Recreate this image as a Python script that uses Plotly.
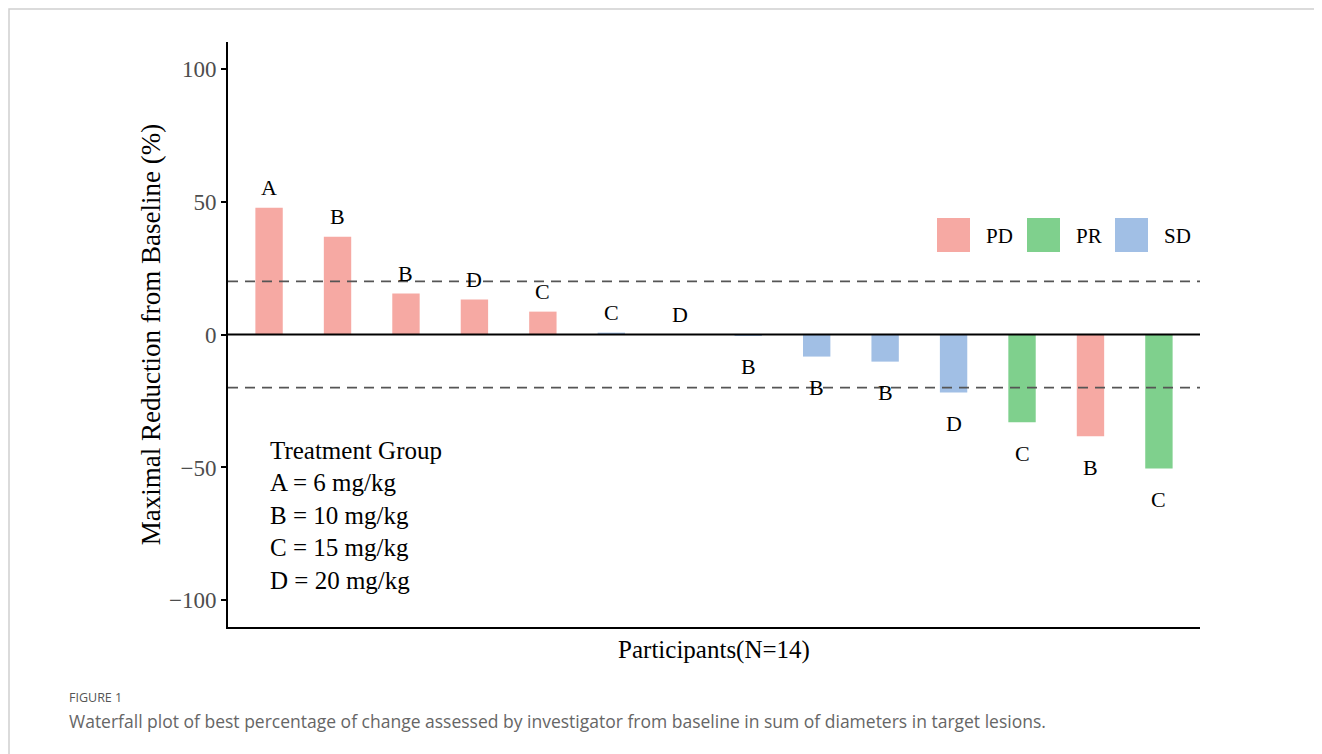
import plotly.graph_objects as go

# ---- data ----
groups = ["A", "B", "B", "D", "C", "C", "D", "B", "B", "B", "D", "C", "B", "C"]
values = [47.7, 36.8, 15.4, 13.2, 8.6, 0.7, 0.0, -0.5, -8.3, -10.2, -21.8, -33.0, -38.3, -50.4]
responses = ["PD", "PD", "PD", "PD", "PD", "SD", "SD", "SD", "SD", "SD", "SD", "PR", "PD", "PR"]
response_order = ["PD", "PR", "SD"]
group_legend = ["Treatment Group", "A = 6 mg/kg", "B = 10 mg/kg", "C = 15 mg/kg", "D = 20 mg/kg"]
y_ticks = [100, 50, 0, -50, -100]
thresholds = [20, -20]

colors = {"PD": "#F6A9A3", "PR": "#7FD08D", "SD": "#A1BFE5"}
SERIF = "Liberation Serif, Times New Roman, serif"
SANS = "Open Sans, Lato, sans-serif"

OFF = 8  # page body margin
W, H = 1322 - OFF, 754 - OFF
L, R, T, B = 228, 1200, 42, 627  # plot area in page pixels


def px(x):
    return (x - L) / (R - L)


def py(y):
    return (B - y) / (B - T)


fig = go.Figure()
idx = list(range(len(values)))
for resp in response_order:
    xs = [i for i in idx if responses[i] == resp]
    fig.add_trace(go.Bar(
        x=xs, y=[values[i] for i in xs], width=0.4,
        marker=dict(color=colors[resp], line=dict(width=0)),
        name=resp, showlegend=False, hoverinfo="x+y",
    ))

annotations = []
for i, (g, v) in enumerate(zip(groups, values)):
    annotations.append(dict(
        x=i, y=v, xref="x", yref="y", text=g, showarrow=False,
        yanchor="middle", yshift=20 if v >= 0 else -31,
        font=dict(family=SERIF, size=22, color="black"),
    ))

# treatment group text block
for k, line in enumerate(group_legend):
    annotations.append(dict(
        x=px(268), y=py(450 + 32.5 * k), xref="paper", yref="paper",
        xanchor="left", yanchor="middle", text=line, showarrow=False,
        font=dict(family=SERIF, size=25, color="black"),
    ))

shapes = []
# manual legend
leg_x = [937, 1027, 1115]
for resp, lx in zip(response_order, leg_x):
    shapes.append(dict(type="rect", xref="paper", yref="paper",
                       x0=px(lx), x1=px(lx + 33), y0=py(252), y1=py(218),
                       fillcolor=colors[resp], line=dict(width=0)))
    annotations.append(dict(
        x=px(lx + 47), y=py(236), xref="paper", yref="paper",
        xanchor="left", yanchor="middle", text=resp, showarrow=False,
        font=dict(family=SERIF, size=21, color="black"),
    ))

# reference lines
for t in thresholds:
    shapes.append(dict(type="line", xref="paper", yref="y", x0=0, x1=1, y0=t, y1=t,
                       line=dict(color="#555555", width=1.8, dash="10px,7px")))
shapes.append(dict(type="line", xref="paper", yref="y", x0=0, x1=1, y0=0, y1=0,
                   line=dict(color="black", width=2.2)))

# figure frame
shapes.append(dict(type="rect", xref="paper", yref="paper",
                   x0=px(9), x1=px(1322 + 20), y0=py(754 + 20), y1=py(9),
                   line=dict(color="#D0D0D0", width=1.5), layer="below"))

# caption
annotations.append(dict(
    x=px(67), y=py(697), xref="paper", yref="paper", xanchor="left", yanchor="middle",
    text="FIGURE 1", showarrow=False, font=dict(family=SANS, size=12.5, color="#555555"),
))
annotations.append(dict(
    x=px(67), y=py(721), xref="paper", yref="paper", xanchor="left", yanchor="middle",
    text="Waterfall plot of best percentage of change assessed by investigator from baseline in sum of diameters in target lesions.",
    showarrow=False, font=dict(family=SANS, size=17.5, color="#666666"),
))

fig.update_layout(
    width=W, height=H,
    margin=dict(l=L - OFF, r=W - (R - OFF), t=T - OFF, b=H - (B - OFF)),
    paper_bgcolor="white", plot_bgcolor="white",
    barmode="overlay",
    shapes=shapes, annotations=annotations,
    xaxis=dict(range=[-0.6, 13.6], showticklabels=False, ticks="", showgrid=False,
               zeroline=False, showline=True, linecolor="black", linewidth=2,
               title=dict(text="Participants(N=14)", standoff=12,
                          font=dict(family=SERIF, size=25, color="black"))),
    yaxis=dict(range=[-110, 110], tickvals=y_ticks,
               ticktext=[str(v).replace("-", "\u2212") for v in y_ticks],
               ticks="outside", ticklen=5, tickwidth=1.5, tickcolor="black",
               tickfont=dict(family=SERIF, size=23, color="#4D4D4D"),
               showgrid=False, zeroline=False, showline=True, linecolor="black", linewidth=2,
               title=dict(text="Maximal Reduction from Baseline (%)", standoff=0,
                          font=dict(family=SERIF, size=27, color="black"))),
)

fig.write_html("out.html")
